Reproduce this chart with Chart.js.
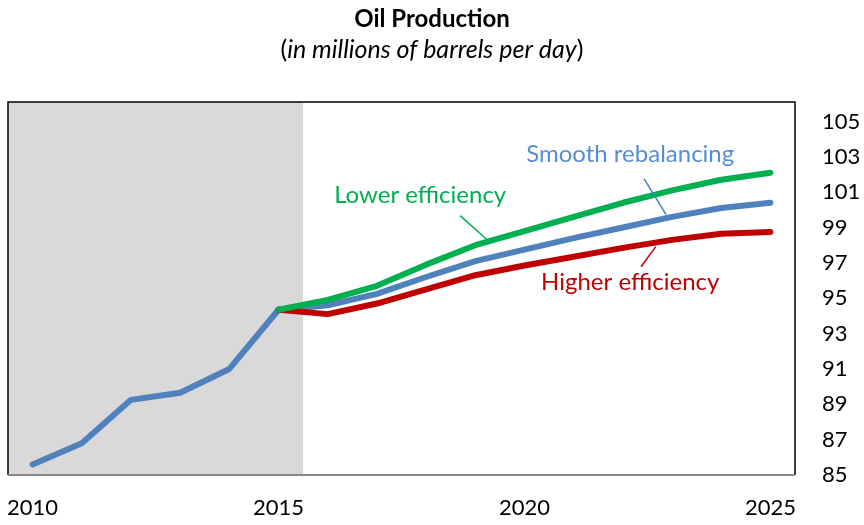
<!DOCTYPE html>
<html>
<head>
<meta charset="utf-8">
<script src="https://cdn.jsdelivr.net/npm/chart.js@4.4.1/dist/chart.umd.min.js"></script>
<style>
  html, body { margin: 0; padding: 0; background: #fff; }
  #wrap { width: 864px; height: 525px; position: relative; }
</style>
</head>
<body>
<div id="wrap"><canvas id="oilChart" width="864" height="525"></canvas></div>
<script>
// datos
const histYears = [2010, 2011, 2012, 2013, 2014, 2015];
const histValues = [85.6, 86.8, 89.25, 89.65, 91.0, 94.35];

const projYears = [2015, 2016, 2017, 2018, 2019, 2020, 2021, 2022, 2023, 2024, 2025];
const lowerEff = [94.35, 94.9, 95.7, 96.9, 98.0, 98.8, 99.6, 100.4, 101.1, 101.7, 102.1];
const smoothReb = [94.35, 94.6, 95.25, 96.2, 97.1, 97.75, 98.4, 99.0, 99.6, 100.1, 100.4];
const higherEff = [94.35, 94.1, 94.7, 95.5, 96.3, 96.85, 97.35, 97.85, 98.3, 98.65, 98.75];

const xTickLabels = [2010, 2015, 2020, 2025];
const yTickLabels = [85, 87, 89, 91, 93, 95, 97, 99, 101, 103, 105];

const GREEN = '#00B050';
const BLUE = '#4F81BD';
const BLUE_TEXT = '#558ED5';
const RED = '#C00000';
const FONT = 'Lato, "Open Sans", sans-serif';

function toPoints(xs, ys) {
    return xs.map((x, i) => ({ x: x, y: ys[i] }));
}

// fondo gris del periodo historico + textos
const decorPlugin = {
    id: 'decor',
    beforeDatasetsDraw(chart) {
        const { ctx, chartArea, scales } = chart;
        const xEnd = scales.x.getPixelForValue(2015.5);
        ctx.save();
        ctx.fillStyle = '#D9D9D9';
        ctx.fillRect(chartArea.left, chartArea.top, xEnd - chartArea.left, chartArea.bottom - chartArea.top);
        ctx.restore();
    },
    afterDatasetsDraw(chart) {
        const { ctx, chartArea, scales } = chart;
        const x = scales.x, y = scales.y;
        ctx.save();
        // borde del area
        ctx.strokeStyle = '#000';
        ctx.lineWidth = 1.5;
        ctx.beginPath();
        ctx.moveTo(chartArea.left, chartArea.bottom);
        ctx.lineTo(chartArea.left, chartArea.top);
        ctx.lineTo(chartArea.right, chartArea.top);
        ctx.lineTo(chartArea.right, chartArea.bottom);
        ctx.stroke();
        ctx.strokeStyle = '#888';
        ctx.lineWidth = 2;
        ctx.beginPath();
        ctx.moveTo(chartArea.left, chartArea.bottom);
        ctx.lineTo(chartArea.right, chartArea.bottom);
        ctx.stroke();

        // etiquetas de las series
        const notes = [
            { text: 'Lower efficiency', color: GREEN, tx: 2017.88, ty: 100.8, l: [2018.69, 99.67, 2019.24, 98.31] },
            { text: 'Smooth rebalancing', color: BLUE_TEXT, tx: 2022.15, ty: 103.15, l: [2022.43, 101.77, 2022.88, 99.73] },
            { text: 'Higher efficiency', color: RED, tx: 2022.15, ty: 95.88, l: [2022.67, 97.92, 2022.37, 96.78] }
        ];
        ctx.font = '24px ' + FONT;
        ctx.textAlign = 'center';
        ctx.textBaseline = 'middle';
        notes.forEach(n => {
            ctx.fillStyle = n.color;
            ctx.fillText(n.text, x.getPixelForValue(n.tx), y.getPixelForValue(n.ty));
            ctx.strokeStyle = n.color === BLUE_TEXT ? BLUE : n.color;
            ctx.lineWidth = 1.5;
            ctx.beginPath();
            ctx.moveTo(x.getPixelForValue(n.l[0]), y.getPixelForValue(n.l[1]));
            ctx.lineTo(x.getPixelForValue(n.l[2]), y.getPixelForValue(n.l[3]));
            ctx.stroke();
        });

        // titulo
        ctx.fillStyle = '#000';
        ctx.font = 'bold 24px ' + FONT;
        ctx.fillText('Oil Production', 432, 19);
        const sub1 = '(', sub2 = 'in millions of barrels per day', sub3 = ')';
        ctx.font = '25px ' + FONT;
        const w1 = ctx.measureText(sub1).width;
        const w3 = ctx.measureText(sub3).width;
        ctx.font = 'italic 25px ' + FONT;
        const w2 = ctx.measureText(sub2).width;
        const start = 432 - (w1 + w2 + w3) / 2;
        ctx.textAlign = 'left';
        ctx.font = '25px ' + FONT;
        ctx.fillText(sub1, start, 50);
        ctx.font = 'italic 25px ' + FONT;
        ctx.fillText(sub2, start + w1, 50);
        ctx.font = '25px ' + FONT;
        ctx.fillText(sub3, start + w1 + w2, 50);
        ctx.restore();
    }
};

const lineStyle = { borderWidth: 6, pointRadius: 0, borderCapStyle: 'round', borderJoinStyle: 'round', tension: 0, fill: false };

new Chart(document.getElementById('oilChart'), {
    type: 'line',
    data: {
        datasets: [
            { label: 'Lower efficiency', data: toPoints(projYears, lowerEff), borderColor: GREEN, ...lineStyle },
            { label: 'Higher efficiency', data: toPoints(projYears, higherEff), borderColor: RED, ...lineStyle },
            { label: 'Smooth rebalancing', data: toPoints(projYears, smoothReb), borderColor: BLUE, ...lineStyle },
            { label: 'History', data: toPoints(histYears, histValues), borderColor: BLUE, ...lineStyle }
        ]
    },
    options: {
        responsive: false,
        animation: false,
        layout: { padding: { top: 102, left: 8, right: 0, bottom: 0 } },
        plugins: { legend: { display: false }, tooltip: { enabled: false } },
        scales: {
            x: {
                type: 'linear',
                min: 2009.5,
                max: 2025.5,
                grid: { display: false, drawTicks: false },
                border: { display: false },
                afterBuildTicks: axis => { axis.ticks = xTickLabels.map(v => ({ value: v })); },
                afterFit: axis => { axis.height = 50; axis.paddingLeft = 0; axis.paddingRight = 0; },
                ticks: {
                    padding: 20,
                    color: '#000',
                    font: { family: FONT, size: 22 },
                    maxRotation: 0,
                    callback: v => String(v)
                }
            },
            y: {
                position: 'right',
                min: 85,
                max: 106.1,
                grid: { display: false, drawTicks: false },
                border: { display: false },
                afterBuildTicks: axis => { axis.ticks = yTickLabels.map(v => ({ value: v })); },
                afterFit: axis => { axis.width = 69; axis.paddingTop = 0; axis.paddingBottom = 0; },
                ticks: {
                    padding: 27,
                    color: '#000',
                    crossAlign: 'near',
                    font: { family: FONT, size: 22 },
                    callback: v => String(v)
                }
            }
        }
    },
    plugins: [decorPlugin]
});
</script>
</body>
</html>
